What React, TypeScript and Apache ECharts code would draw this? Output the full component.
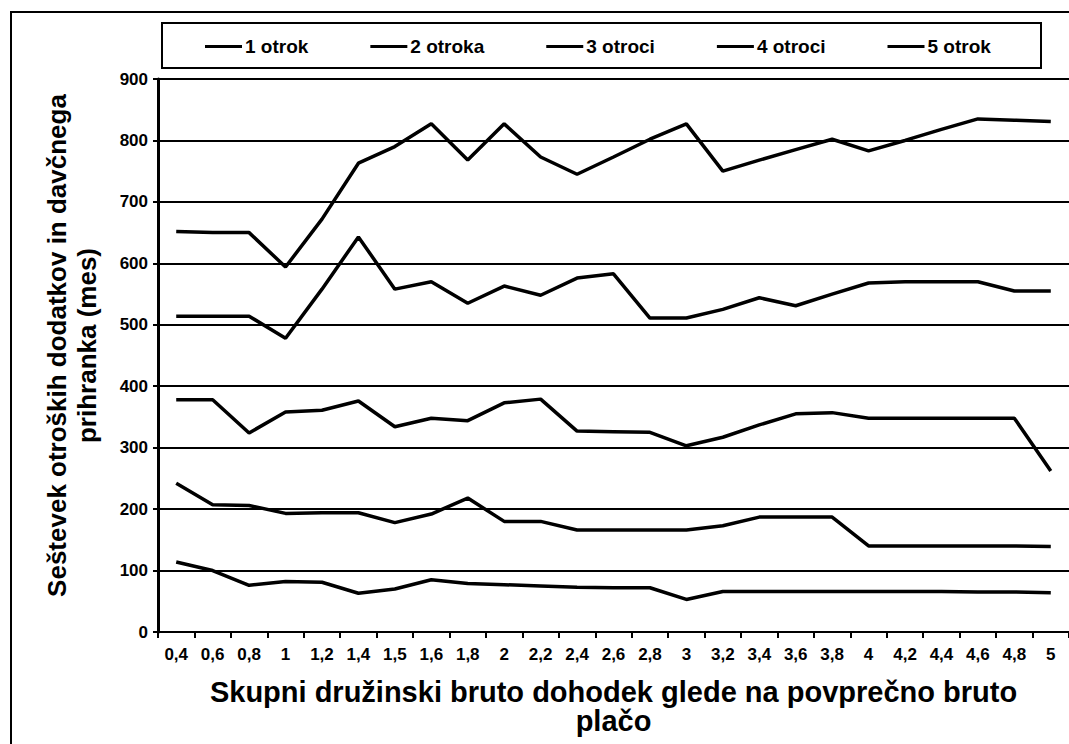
import React, { useEffect, useRef } from "react";
import * as echarts from "echarts";

const categories = ["0,4", "0,6", "0,8", "1", "1,2", "1,4", "1,5", "1,6", "1,8", "2", "2,2", "2,4", "2,6", "2,8", "3", "3,2", "3,4", "3,6", "3,8", "4", "4,2", "4,4", "4,6", "4,8", "5"];

const seriesNames = ["1 otrok", "2 otroka", "3 otroci", "4 otroci", "5 otrok"];

const otrok1 = [114, 100, 76, 82, 81, 63, 70, 85, 79, 77, 75, 73, 72, 72, 53, 66, 66, 66, 66, 66, 66, 66, 65, 65, 64];
const otroka2 = [242, 207, 206, 193, 194, 194, 178, 192, 218, 180, 180, 166, 166, 166, 166, 173, 187, 187, 187, 140, 140, 140, 140, 140, 139];
const otroci3 = [378, 378, 324, 358, 361, 376, 334, 348, 344, 373, 379, 327, 326, 325, 303, 317, 337, 355, 357, 348, 348, 348, 348, 348, 262];
const otroci4 = [514, 514, 514, 478, 558, 643, 558, 570, 535, 563, 548, 576, 583, 511, 511, 525, 544, 531, 550, 568, 570, 570, 570, 555, 555];
const otrok5 = [652, 650, 650, 594, 672, 763, 790, 827, 768, 827, 773, 745, 773, 802, 827, 750, 768, 785, 802, 783, 800, 818, 835, 833, 831];

const yTicks = [0, 100, 200, 300, 400, 500, 600, 700, 800, 900];

const FONT = "'Liberation Sans', Arial, sans-serif";

export default function App() {
  const ref = useRef<HTMLDivElement>(null);
  useEffect(() => {
    document.body.style.margin = "0";
    if (!ref.current) return;
    const chart = echarts.init(ref.current, null, { renderer: "svg" });
    const allData = [otrok1, otroka2, otroci3, otroci4, otrok5];
    chart.setOption({
      animation: false,
      backgroundColor: "#ffffff",
      textStyle: { fontFamily: FONT },
      graphic: [
        {
          type: "rect",
          shape: { x: 11, y: 12, width: 1100, height: 800 },
          style: { fill: "none", stroke: "#000", lineWidth: 2 },
          silent: true,
        },
        {
          type: "rect",
          shape: { x: 162, y: 23, width: 879, height: 45 },
          style: { fill: "none", stroke: "#000", lineWidth: 2 },
          silent: true,
        },
      ],
      legend: {
        data: seriesNames,
        left: 200,
        top: 32,
        itemGap: 62,
        itemWidth: 37,
        itemHeight: 3,
        icon: "rect",
        textStyle: { fontFamily: FONT, fontWeight: "bold", fontSize: 19, color: "#000", padding: [0, 0, 0, -2] },
      },
      grid: { left: 158, right: -4, top: 79, bottom: 112, containLabel: false },
      xAxis: {
        type: "category",
        data: categories,
        boundaryGap: true,
        name: "Skupni družinski bruto dohodek glede na povprečno bruto\nplačo",
        nameLocation: "middle",
        nameGap: 45,
        nameTextStyle: { fontFamily: FONT, fontWeight: "bold", fontSize: 29, color: "#000", lineHeight: 29, verticalAlign: "top" },
        axisLine: { lineStyle: { color: "#000", width: 2 } },
        axisTick: { show: true, length: 6, lineStyle: { color: "#000", width: 2 } },
        axisLabel: { interval: 0, color: "#000", fontWeight: "bold", fontSize: 17, fontFamily: FONT, margin: 14 },
        splitLine: { show: false },
      },
      yAxis: {
        type: "value",
        min: 0,
        max: 900,
        interval: 100,
        name: "Seštevek otroških dodatkov in davčnega\nprihranka (mes)",
        nameLocation: "middle",
        nameRotate: 90,
        nameGap: 56,
        nameTextStyle: { fontFamily: FONT, fontWeight: "bold", fontSize: 26, color: "#000", lineHeight: 30, padding: [0, 0, 0, 20] },
        axisLine: { show: true, lineStyle: { color: "#000", width: 3 } },
        axisTick: { show: true, length: 5, lineStyle: { color: "#000", width: 2 } },
        axisLabel: {
          color: "#000",
          fontWeight: "bold",
          fontSize: 17,
          fontFamily: FONT,
          margin: 10,
          formatter: (v: number) => (yTicks.includes(v) ? String(v) : ""),
        },
        splitLine: { show: true, lineStyle: { color: "#000", width: 2 } },
      },
      series: seriesNames.map((n, i) => ({
        name: n,
        type: "line",
        data: allData[i],
        symbol: "none",
        lineStyle: { color: "#000", width: 3.5 },
        itemStyle: { color: "#000" },
      })),
    });
    return () => chart.dispose();
  }, []);
  return <div ref={ref} style={{ width: 1069, height: 744 }} />;
}
